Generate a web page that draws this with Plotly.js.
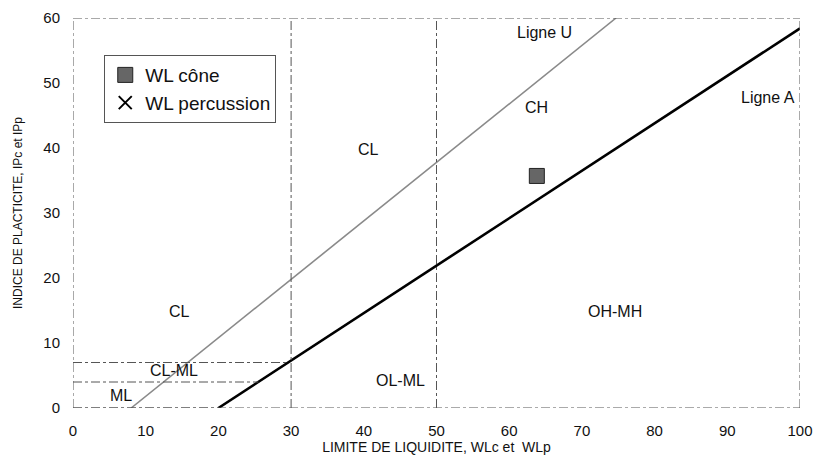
<!DOCTYPE html>
<html><head><meta charset="utf-8">
<script src="https://cdn.plot.ly/plotly-3.0.1.min.js"></script>
<style>html,body{margin:0;padding:0;background:#fff}#chart{width:821px;height:464px}</style>
</head><body><div id="chart"></div>
<script>
// Data
const uLineX = [8, 74.7];
const uLineY = [0, 60];
const aLineX = [20, 100];
const aLineY = [0, 58.4];
const coneX = [63.8];
const coneY = [35.7];
const percX = [null];
const percY = [null];
const zoneLabels = ["Ligne U", "Ligne A", "CH", "CL", "CL", "CL-ML", "ML", "OL-ML", "OH-MH"];
const zoneX = [64.8, 95.6, 63.8, 40.7, 14.7, 13.9, 6.6, 45, 74.6];
const zoneY = [57.8, 47.8, 46.2, 39.7, 14.9, 5.8, 2.0, 4.2, 14.9];
// Boundary lines of the chart zones
const vLinesX = [30, 50, 100];
const hLineSegs = [[0, 25.5, 4], [0, 29.6, 7], [0, 20, 0]];
const xTicks = [0, 10, 20, 30, 40, 50, 60, 70, 80, 90, 100];
const yTicks = [0, 10, 20, 30, 40, 50, 60];

const lineCol = '#555';
const shapes = [];
// border
shapes.push({type:'line', xref:'x', yref:'y', x0:0, x1:0, y0:0, y1:60, line:{color:lineCol, width:1, dash:'dashdot'}});
shapes.push({type:'line', xref:'x', yref:'y', x0:0, x1:100, y0:60, y1:60, line:{color:lineCol, width:1, dash:'dashdot'}});
shapes.push({type:'line', xref:'x', yref:'y', x0:0, x1:100, y0:0, y1:0, line:{color:lineCol, width:1, dash:'dashdot'}});
vLinesX.forEach(v => shapes.push({type:'line', xref:'x', yref:'y', x0:v, x1:v, y0:0, y1:60, line:{color:lineCol, width:1, dash:'dashdot'}}));
hLineSegs.forEach(s => shapes.push({type:'line', xref:'x', yref:'y', x0:s[0], x1:s[1], y0:s[2], y1:s[2], line:{color:lineCol, width:1, dash:'dashdot'}}));

const traces = [
  {x:uLineX, y:uLineY, mode:'lines', line:{color:'#8a8a8a', width:1.6}, showlegend:false, hoverinfo:'skip'},
  {x:aLineX, y:aLineY, mode:'lines', line:{color:'#000', width:2.6}, showlegend:false, hoverinfo:'skip'},
  {x:coneX, y:coneY, mode:'markers', name:'WL cône', marker:{symbol:'square', size:15, color:'#666', line:{color:'#222', width:1}}},
  {x:percX, y:percY, mode:'markers', name:'WL percussion', marker:{symbol:'x-thin', size:13, color:'#000', line:{color:'#000', width:2}}}
];

const annotations = zoneLabels.map((t, i) => ({x:zoneX[i], y:zoneY[i], xref:'x', yref:'y', text:t, showarrow:false, font:{family:'Liberation Sans, Arial', size:16, color:'#111'}}));

const layout = {
  width:821, height:464,
  margin:{l:73, r:21, t:18, b:56},
  paper_bgcolor:'#fff', plot_bgcolor:'#fff',
  font:{family:'Liberation Sans, Arial', size:12, color:'#111'},
  xaxis:{range:[0,100], tickvals:xTicks, showgrid:false, zeroline:false, showline:false, ticks:'',
    ticklabelstandoff:12,
    tickfont:{size:15}, title:{text:'LIMITE DE LIQUIDITE, WLc et  WLp', font:{size:14}, standoff:4}},
  yaxis:{range:[0,60], tickvals:yTicks, showgrid:false, zeroline:false, showline:false, ticks:'',
    ticklabelstandoff:12,
    tickfont:{size:15}, title:{text:'INDICE DE PLACTICITE, IPc et IPp', font:{size:12}, standoff:18}},
  shapes:shapes,
  annotations:annotations,
  legend:{x:0.043, y:0.905, xanchor:'left', yanchor:'top', bgcolor:'rgba(255,255,255,0)', bordercolor:lineCol, borderwidth:1,
    font:{size:19, family:'Liberation Sans, Arial'}, itemwidth:30, tracegroupgap:0},
  showlegend:true
};
Plotly.newPlot('chart', traces, layout, {displayModeBar:false, staticPlot:true});
</script></body></html>
